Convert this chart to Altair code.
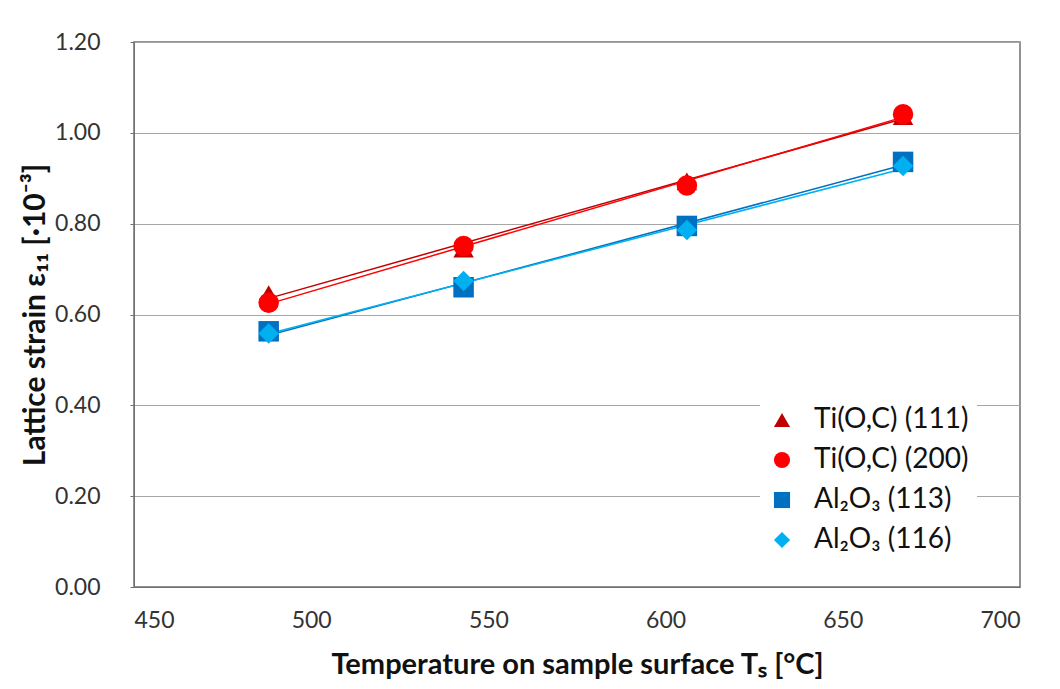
import altair as alt
import pandas as pd

temps = [488, 543, 606, 667]
series_names = ["Ti(O,C) (111)", "Ti(O,C) (200)", "Al₂O₃ (113)", "Al₂O₃ (116)"]
ti111 = [0.645, 0.745, 0.893, 1.037]
ti200 = [0.626, 0.751, 0.884, 1.041]
al113 = [0.563, 0.660, 0.795, 0.936]
al116 = [0.558, 0.674, 0.786, 0.927]
colors = ["#C00000", "#FF0000", "#0070C0", "#00B0F0"]
shapes = ["triangle-up", "circle", "square", "diamond"]

rows = []
for name, vals in zip(series_names, [ti111, ti200, al113, al116]):
    for t, v in zip(temps, vals):
        rows.append({"T": t, "strain": v, "series": name})
df = pd.DataFrame(rows)

FONT = "Lato"
x = alt.X("T:Q", scale=alt.Scale(domain=[450, 700], nice=False),
          axis=alt.Axis(values=[450, 500, 550, 600, 650, 700], grid=False,
                        title="Temperature on sample surface Tₛ [°C]",
                        labelFontSize=23, titleFontSize=29, titleFontWeight="bold",
                        labelPadding=22, titlePadding=18, ticks=False,
                        labelColor="#333333", titleColor="#111111",
                        domainColor="#707070"))
y = alt.Y("strain:Q", scale=alt.Scale(domain=[0, 1.2], nice=False),
          axis=alt.Axis(values=[0, 0.2, 0.4, 0.6, 0.8, 1.0, 1.2], format=".2f",
                        title="Lattice strain ε₁₁ [·10⁻³]",
                        labelFontSize=23, titleFontSize=30, titleFontWeight="bold",
                        labelPadding=30, titlePadding=4, tickSize=4,
                        gridColor="#A6A6A6", gridWidth=1.2,
                        labelColor="#333333", titleColor="#111111",
                        domainColor="#707070", tickColor="#707070"))

color_scale = alt.Scale(domain=series_names, range=colors)
shape_scale = alt.Scale(domain=series_names, range=shapes)

lines = alt.Chart(df).mark_line(strokeWidth=1.5).encode(
    x=x, y=y,
    color=alt.Color("series:N", scale=color_scale),
    detail="series:N",
).transform_regression("T", "strain", groupby=["series"])

points = alt.Chart(df).mark_point(filled=True, opacity=1, size=420).encode(
    x=x, y=y,
    color=alt.Color("series:N", scale=color_scale),
    shape=alt.Shape("series:N", scale=shape_scale),
)

chart = (lines + points).properties(
    width=886, height=545,
    autosize=alt.AutoSizeParams(type="none"),
    padding={"left": 134, "top": 42, "right": 40, "bottom": 102},
).configure(font=FONT).configure_view(
    stroke="#707070", strokeWidth=1.5
).configure_legend(
    title=None, orient="none", legendX=626, legendY=356,
    labelFontSize=28, labelColor="#111111", symbolSize=260, rowPadding=12,
    labelOffset=18, fillColor="white", padding=8, symbolOpacity=1,
    symbolStrokeWidth=0, labelLimit=400
)

chart.save("out.html", embed_options={"renderer": "svg", "actions": False})
